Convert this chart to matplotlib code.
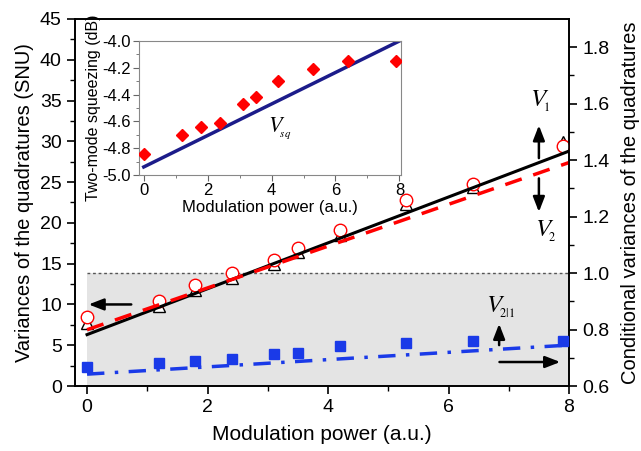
import numpy as np
import matplotlib
matplotlib.use("Agg")
import matplotlib.pyplot as plt
from matplotlib.transforms import blended_transform_factory

plt.rcParams["font.family"] = ["Liberation Sans", "DejaVu Sans"]
plt.rcParams["mathtext.fontset"] = "stix"

# donnees
power = [0, 1.2, 1.8, 2.4, 3.1, 3.5, 4.2, 5.3, 6.4, 7.9]
v1 = [8.4, 10.4, 12.4, 13.8, 15.5, 16.9, 19.1, 22.8, 24.8, 29.4]
v2 = [7.7, 9.8, 11.8, 13.2, 14.9, 16.4, 18.5, 22.3, 24.4, 29.9]
v21 = [0.667, 0.681, 0.688, 0.695, 0.713, 0.717, 0.741, 0.752, 0.759, 0.760]
fit_x = [0, 8]
fit_v1 = [6.3, 28.8]
fit_v2 = [6.9, 27.4]
fit_v21 = [0.642, 0.745]

sq = [-4.84, -4.70, -4.64, -4.61, -4.47, -4.42, -4.30, -4.21, -4.15, -4.15]
fit_sq = [-4.94, -4.0]

fig = plt.figure(figsize=(6.41, 4.51), dpi=100)
ax = fig.add_axes([0.117, 0.1441, 0.7707, 0.8138])
ax2 = ax.twinx()

# zone grise sous 1.0 (axe de droite)
tr = blended_transform_factory(ax.transData, ax2.transData)
ax.fill_between([0, 8], [0.6, 0.6], [1.0, 1.0], transform=tr,
                color="#e4e4e4", lw=0, zorder=0)
ax.plot([0, 8], [1.0, 1.0], transform=tr, ls=(0, (2, 2)), color="#555555",
        lw=1.0, zorder=1)

ax.plot(power, v2, "^", ms=8.5, mfc="white", mec="black", mew=1.0, zorder=3)
ax.plot(power, v1, "o", ms=9, mfc="white", mec="red", mew=1.0, zorder=4)
ax.plot(fit_x, fit_v1, color="black", lw=2.2, zorder=5)
ax.plot(fit_x, fit_v2, color="red", lw=2.5, ls=(0, (5, 3.5)), zorder=5)

ax2.plot(power, v21, "s", ms=7, color="#1a3ae8", zorder=3)
ax2.plot(fit_x, fit_v21, color="#1a3ae8", lw=2.5, ls=(0, (5, 3, 1, 3)), zorder=3)

ax.set_xlim(-0.2, 8)
ax.set_ylim(0, 45)
ax2.set_ylim(0.6, 1.9)
ax.set_xticks([0, 2, 4, 6, 8])
ax.set_xticks([1, 3, 5, 7], minor=True)
ax.set_yticks(np.arange(0, 46, 5))
ax.set_yticks(np.arange(2.5, 45, 5), minor=True)
ax2.set_yticks([0.6, 0.8, 1.0, 1.2, 1.4, 1.6, 1.8])
ax2.set_yticks([0.7, 0.9, 1.1, 1.3, 1.5, 1.7], minor=True)
ax2.set_yticklabels(["0.6", "0.8", "1.0", "1.2", "1.4", "1.6", "1.8"])

for a in (ax, ax2):
    a.tick_params(which="major", length=6, width=1.2, labelsize=14, direction="out")
    a.tick_params(which="minor", length=3.5, width=1.0, direction="out")
    for s in a.spines.values():
        s.set_linewidth(1.2)

ax.set_xlabel("Modulation power (a.u.)", fontsize=15, labelpad=6)
ax.set_ylabel("Variances of the quadratures (SNU)", fontsize=14.5, labelpad=4)
ax2.set_ylabel("Conditional variances of the quadratures", fontsize=14.5, labelpad=8)

# fleches
arr = dict(arrowstyle="-|>,head_length=0.9,head_width=0.35", color="black", lw=1.8)
ax.annotate("", xy=(-0.02, 10), xytext=(0.78, 10), arrowprops=arr)
ax2.annotate("", xy=(7.9, 0.685), xytext=(6.8, 0.685), arrowprops=arr)
ax.annotate("", xy=(7.5, 32.3), xytext=(7.5, 27.6), arrowprops=arr)
ax.annotate("", xy=(7.5, 21.0), xytext=(7.5, 25.8), arrowprops=arr)
ax2.annotate("", xy=(6.84, 0.83), xytext=(6.84, 0.735), arrowprops=arr)

ax.text(7.35, 34.3, r"$V_{\!_1}$", fontsize=18)
ax.text(7.44, 18.3, r"$V_{\!_2}$", fontsize=18)
ax2.text(6.62, 0.86, r"$V_{\!_{2|1}}$", fontsize=18)

# encart
ins = fig.add_axes([0.2168, 0.612, 0.4088, 0.2971])
ins.plot(power, sq, "D", ms=6, color="red", zorder=3)
ins.plot(fit_x, fit_sq, color="#1c1c8a", lw=2.5)
ins.set_xlim(-0.15, 8.05)
ins.set_ylim(-5.0, -4.0)
ins.set_xticks([0, 2, 4, 6, 8])
ins.set_xticks([1, 3, 5, 7], minor=True)
ins.set_yticks([-5.0, -4.8, -4.6, -4.4, -4.2, -4.0])
ins.set_yticklabels(["-5.0", "-4.8", "-4.6", "-4.4", "-4.2", "-4.0"])
ins.set_yticks([-4.9, -4.7, -4.5, -4.3, -4.1], minor=True)
ins.tick_params(which="major", length=4, labelsize=12, direction="out",
                color="#666666", pad=2)
ins.tick_params(which="minor", length=2.5, direction="out", color="#666666")
for s in ins.spines.values():
    s.set_color("#888888")
ins.set_xlabel("Modulation power (a.u.)", fontsize=12, labelpad=1)
ins.set_ylabel("Two-mode squeezing (dB)", fontsize=11.5, labelpad=1)
ins.text(3.9, -4.68, r"$V_{\!_{sq}}$", fontsize=16)

fig.savefig("out.png", dpi=100)
